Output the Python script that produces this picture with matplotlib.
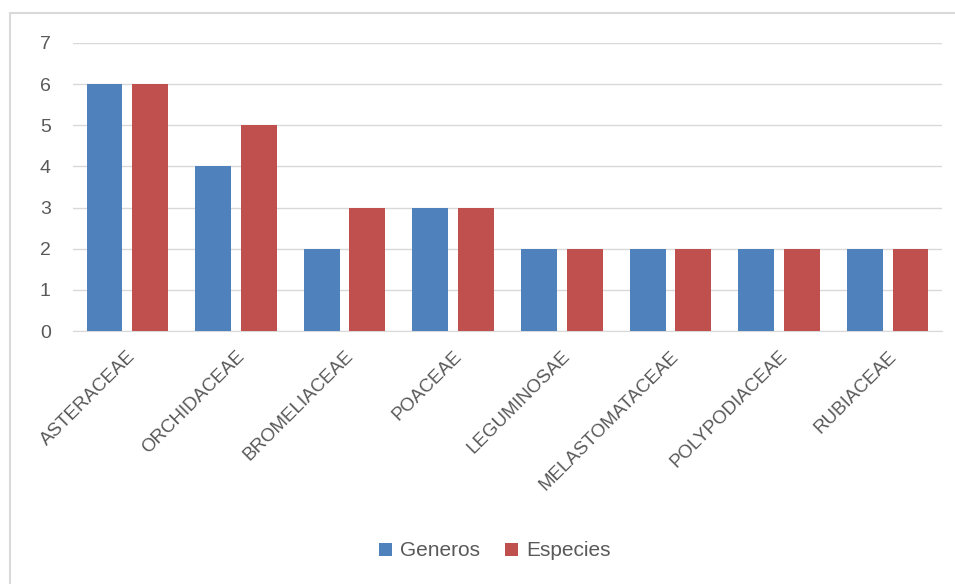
import matplotlib
matplotlib.use("Agg")
import matplotlib.pyplot as plt
import numpy as np
from matplotlib.patches import Rectangle

# --- data ---
families = ["ASTERACEAE", "ORCHIDACEAE", "BROMELIACEAE", "POACEAE",
            "LEGUMINOSAE", "MELASTOMATACEAE", "POLYPODIACEAE", "RUBIACEAE"]
generos = [6, 4, 2, 3, 2, 2, 2, 2]
especies = [6, 5, 3, 3, 2, 2, 2, 2]
yticks = [0, 1, 2, 3, 4, 5, 6, 7]

BLUE = "#4F81BD"
RED = "#C0504D"
TEXT = "#595959"
GRID = "#D9D9D9"

plt.rcParams["font.family"] = ["Liberation Sans", "DejaVu Sans"]

fig = plt.figure(figsize=(9.55, 5.84), dpi=100)
ax = fig.add_axes([0.0764, 0.4332, 0.9100, 0.4932])

x = np.arange(len(families))
w = 0.33
ax.bar(x - 0.21, generos, w, color=BLUE, label="Generos", zorder=3)
ax.bar(x + 0.21, especies, w, color=RED, label="Especies", zorder=3)

ax.set_xlim(-0.5, len(families) - 0.5)
ax.set_ylim(0, 7)
ax.set_yticks(yticks)
ax.set_yticklabels([str(t) for t in yticks], fontsize=14, color=TEXT)
ax.set_xticks(x)
ax.set_xticklabels(families, rotation=45, ha="right", rotation_mode="anchor",
                   fontsize=13.5, color=TEXT)
ax.tick_params(axis="both", length=0)
ax.tick_params(axis="y", pad=16)
ax.tick_params(axis="x", pad=12)
ax.grid(axis="y", color=GRID, linewidth=1, zorder=0)
for side in ["top", "right", "left"]:
    ax.spines[side].set_visible(False)
ax.spines["bottom"].set_color(GRID)

# outer chart border (only top/left visible in the crop)
fig.patches.append(Rectangle((10 / 955, -0.1), 1.2, 1 - 13 / 584 + 0.1,
                             transform=fig.transFigure, fill=False,
                             edgecolor=GRID, linewidth=1.5))

fig.legend(loc="center", bbox_to_anchor=(495 / 955, 1 - 551 / 584), ncol=2,
           frameon=False, fontsize=15, handlelength=0.6, handleheight=0.6,
           handletextpad=0.4, columnspacing=1.2, labelcolor=TEXT)

fig.savefig("out.png", dpi=100)
